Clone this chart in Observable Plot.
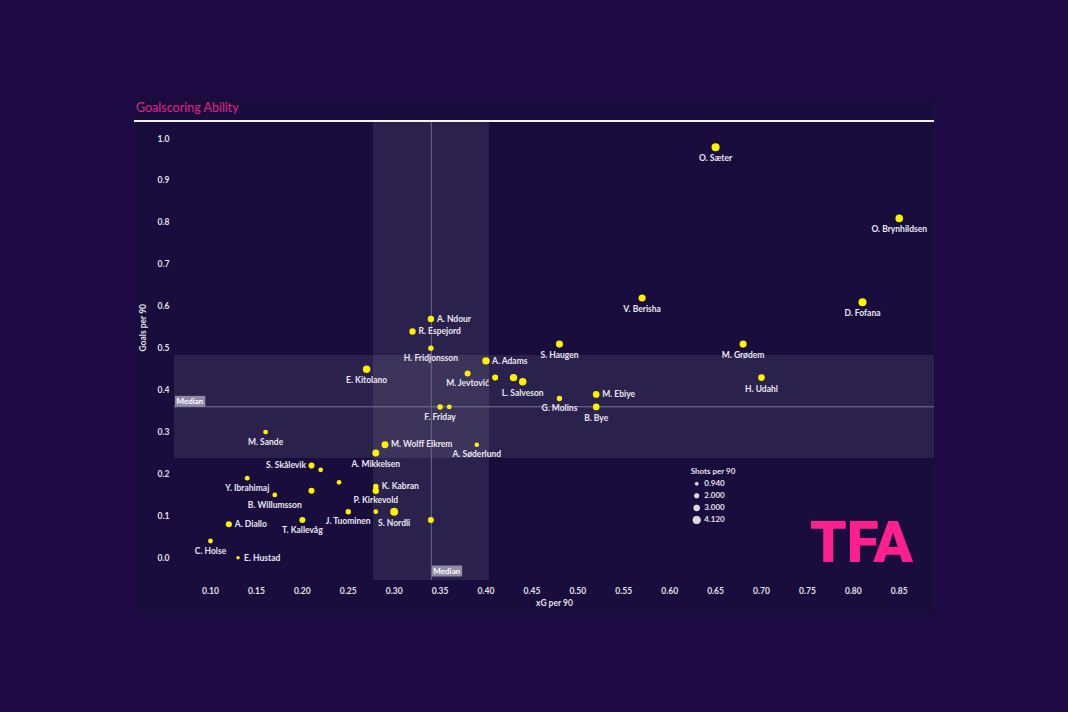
<!DOCTYPE html>
<html>
<head>
<meta charset="utf-8">
<script src="https://cdn.jsdelivr.net/npm/d3@7"></script>
<script src="https://cdn.jsdelivr.net/npm/@observablehq/plot@0.6"></script>
<style>
html,body{margin:0;padding:0;background:#1e0b46;}
#page{position:relative;width:1068px;height:712px;overflow:hidden;background:#1e0b46;font-family:Lato,"Noto Sans",sans-serif;}
#panel{position:absolute;left:134px;top:98px;width:800px;height:516px;background:#180d3d;}
#title{position:absolute;left:2px;top:2px;font-size:12.5px;line-height:15px;color:#e5208c;}
#rule{position:absolute;left:0;top:22px;width:800px;height:2px;background:#f2f0f5;}
#chart{position:absolute;left:0;top:24px;}
#legend{position:absolute;left:546px;top:362px;}
#logo{position:absolute;left:646px;top:402px;overflow:visible;}
</style>
</head>
<body>
<div id="page">
  <div id="panel">
    <div id="title">Goalscoring Ability</div>
    <div id="rule"></div>
    <div id="chart"></div>
    <svg id="legend" width="90" height="72"></svg>
    <svg id="logo" width="150" height="100"></svg>
  </div>
</div>
<script>
// ---- data ----
const players = [
  "O. Sæter","O. Brynhildsen","D. Fofana","V. Berisha","M. Grødem","H. Udahl","S. Haugen",
  "M. Ebiye","G. Molins","B. Bye","L. Salveson","","","A. Adams","M. Jevtović","A. Ndour",
  "R. Espejord","H. Fridjonsson","E. Kitolano","F. Friday","","M. Sande","M. Wolff Eikrem",
  "A. Søderlund","A. Mikkelsen","S. Skålevik","","Y. Ibrahimaj","","K. Kabran","P. Kirkevold",
  "","B. Willumsson","J. Tuominen","","S. Nordli","T. Kallevåg","","A. Diallo","C. Holse","E. Hustad"
];
const xgPer90 = [
  0.65,0.85,0.81,0.57,0.68,0.70,0.48,
  0.52,0.48,0.52,0.44,0.43,0.41,0.40,0.38,0.34,
  0.32,0.34,0.27,0.35,0.36,0.16,0.29,
  0.39,0.28,0.21,0.22,0.14,0.24,0.28,0.28,
  0.21,0.17,0.25,0.28,0.30,0.20,0.34,0.12,0.10,0.13
];
const goalsPer90 = [
  0.98,0.81,0.61,0.62,0.51,0.43,0.51,
  0.39,0.38,0.36,0.42,0.43,0.43,0.47,0.44,0.57,
  0.54,0.50,0.45,0.36,0.36,0.30,0.27,
  0.27,0.25,0.22,0.21,0.19,0.18,0.17,0.16,
  0.16,0.15,0.11,0.11,0.11,0.09,0.09,0.08,0.04,0.00
];
const shotsPer90 = [
  3.9,3.6,3.9,3.3,3.3,3.0,3.3,
  3.0,2.2,3.0,3.5,3.5,2.6,3.5,2.6,2.8,
  2.8,2.2,3.5,2.2,1.8,1.8,3.2,
  1.6,3.2,2.6,1.8,1.8,1.8,2.2,2.8,
  2.6,1.8,2.2,1.8,3.8,2.6,2.6,2.6,1.8,0.94
];
const xTicks = [0.10,0.15,0.20,0.25,0.30,0.35,0.40,0.45,0.50,0.55,0.60,0.65,0.70,0.75,0.80,0.85];
const yTicks = [0.0,0.1,0.2,0.3,0.4,0.5,0.6,0.7,0.8,0.9,1.0];
const xgBand = [0.2775, 0.4038];
const goalsBand = [0.237, 0.4828];
const medianXg = 0.3405;
const medianGoals = 0.3604;
const legendValues = [0.94, 2.0, 3.0, 4.12];
const legendLabels = ["0.940","2.000","3.000","4.120"];
const rightLabeled = ["A. Ndour","R. Espejord","A. Adams","M. Ebiye","M. Wolff Eikrem","K. Kabran","A. Diallo","E. Hustad"];
const leftLabeled = ["S. Skålevik"];

// ---- build ----
const rows = players.map((name, i) => ({name, xg: xgPer90[i], goals: goalsPer90[i], shots: shotsPer90[i]}));
const rDomain = [0.94, 4.12], rRange = [1.75, 4.2];
const yellow = "#fff200", labelColor = "#e9e7f0";
const below = rows.filter(d => d.name && !rightLabeled.includes(d.name) && !leftLabeled.includes(d.name));
const textBase = {x: "xg", y: "goals", text: "name", fill: labelColor, fontSize: 8.5, fontWeight: 700};

const chart = Plot.plot({
  width: 800, height: 492,
  marginLeft: 40, marginRight: 0, marginTop: 0, marginBottom: 34,
  style: {background: "transparent", color: "#e4e2ea", fontFamily: "Lato, 'Noto Sans', sans-serif", fontSize: "8.5px", fontWeight: "700"},
  x: {domain: [0.0608, 0.8884], ticks: xTicks, tickFormat: ".2f", tickSize: 0, tickPadding: 7, label: null},
  y: {domain: [-0.0542, 1.0389], ticks: yTicks, tickFormat: ".1f", tickSize: 0, tickPadding: 5, label: null},
  r: {type: "linear", domain: rDomain, range: rRange},
  marks: [
    Plot.rect([xgBand], {x1: d => d[0], x2: d => d[1], fill: "#ffffff", fillOpacity: 0.085}),
    Plot.rect([goalsBand], {y1: d => d[0], y2: d => d[1], fill: "#ffffff", fillOpacity: 0.085}),
    Plot.ruleX([medianXg], {x: d => d, stroke: "#6c6789", strokeWidth: 1}),
    Plot.ruleY([medianGoals], {y: d => d, stroke: "#7a7596", strokeWidth: 1}),
    Plot.dot(rows, {x: "xg", y: "goals", r: "shots", fill: yellow}),
    Plot.text(below.filter(d => d.shots >= 3), {...textBase, dy: 11.2}),
    Plot.text(below.filter(d => d.shots < 3), {...textBase, dy: 9.9}),
    Plot.text(rows.filter(d => rightLabeled.includes(d.name)), {...textBase, textAnchor: "start", dx: 6}),
    Plot.text(rows.filter(d => leftLabeled.includes(d.name)), {...textBase, textAnchor: "end", dx: -5.5}),
    Plot.text([medianGoals], {y: d => d, frameAnchor: "left", text: () => "Median", textAnchor: "start", dx: 2, dy: -5, fill: "#ffffff", fontSize: 8, fontWeight: 700}),
    Plot.text([medianXg], {x: d => d, frameAnchor: "bottom", text: () => "Median", textAnchor: "start", dx: 2, dy: -6.5, fill: "#ffffff", fontSize: 8, fontWeight: 700}),
    Plot.text(["Goals per 90"], {frameAnchor: "left", text: d => d, rotate: -90, dx: -31, fill: "#e4e2ea", fontSize: 8.5, fontWeight: 700}),
    Plot.text(["xG per 90"], {frameAnchor: "bottom", text: d => d, dy: 25, fill: "#e4e2ea", fontSize: 8.5, fontWeight: 700})
  ]
});
document.getElementById("chart").appendChild(chart);

// grey boxes behind the "Median" labels
chart.querySelectorAll("text").forEach(t => {
  if (t.textContent === "Median") {
    const b = t.getBBox();
    const rect = document.createElementNS("http://www.w3.org/2000/svg", "rect");
    rect.setAttribute("x", b.x - 1.5);
    rect.setAttribute("y", b.y - 0.5);
    rect.setAttribute("width", b.width + 3);
    rect.setAttribute("height", b.height + 1);
    rect.setAttribute("fill", "#8f8aa6");
    if (t.getAttribute("transform")) rect.setAttribute("transform", t.getAttribute("transform"));
    t.parentNode.insertBefore(rect, t);
  }
});

// size legend (same radius mapping as the chart's r scale)
const rScale = d3.scaleLinear(rDomain, rRange);
const lg = d3.select("#legend");
lg.append("text").attr("x", 10.7).attr("y", 12).attr("dominant-baseline", "middle")
  .attr("fill", "#e4e2ea").style("font-size", "8px").style("font-weight", "700")
  .style("font-family", "Lato, 'Noto Sans', sans-serif").text("Shots per 90");
legendValues.forEach((v, i) => {
  const cy = 23.7 + i * 12.1;
  lg.append("circle").attr("cx", 16.7).attr("cy", cy).attr("r", rScale(v) * 0.9)
    .attr("fill", "#d9d7e0").attr("stroke", "#ffffff").attr("stroke-width", 0.6);
  lg.append("text").attr("x", 24.3).attr("y", cy).attr("dominant-baseline", "middle")
    .attr("fill", "#e4e2ea").style("font-size", "8px").style("font-weight", "700")
    .style("font-family", "Lato, 'Noto Sans', sans-serif").text(legendLabels[i]);
});

// TFA logo
d3.select("#logo").append("text").attr("x", 30).attr("y", 62)
  .attr("textLength", 103).attr("lengthAdjust", "spacingAndGlyphs")
  .attr("fill", "#ff1f8f").style("font-size", "58px").style("font-weight", "900")
  .style("font-family", "Roboto, 'DejaVu Sans', sans-serif").text("TFA");
</script>
</body>
</html>
